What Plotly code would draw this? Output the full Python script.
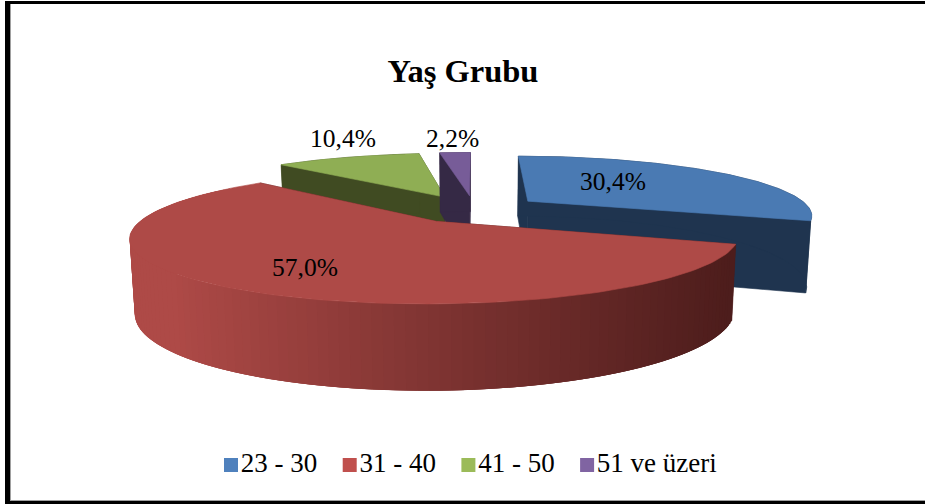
import numpy as np
import plotly.graph_objects as go

categories = ["23 - 30", "31 - 40", "41 - 50", "51 ve üzeri"]
values = [30.4, 57.0, 10.4, 2.2]
title = "Yaş Grubu"
top_colors = ["#4A7AB3", "#AE4A47", "#8FAE54", "#775C98"]
wall_colors = ["#1F344F", "#4D1D1C", "#404B22", "#352945"]
legend_colors = ["#4F81BD", "#C0504D", "#9BBB59", "#8064A2"]
label_xy = [(613, 181), (305, 267), (343, 138), (452, 138)]

# projection of the exploded pie onto a pixel-sized cartesian plot
CX, CY, A, B, K, E, H, S = 474, 209, 283, 58, 0.22, 0.24, 70, 0.985


def project(wx, wy, low=False):
    p = 1 / (1 + K * wy)
    sx = A * wx * p
    sy = CY - B * wy * p
    if low:
        return CX + S * sx, sy + H * p ** 0.7
    return CX + sx, sy


def rim(t, c):
    return c[0] + np.sin(t), c[1] + np.cos(t)


fig = go.Figure()


def poly(xs, ys, color, width=0.6):
    fig.add_trace(go.Scatter(
        x=list(xs), y=list(ys), mode="lines", fill="toself", fillcolor=color,
        line=dict(color=color, width=width), hoverinfo="skip", showlegend=False))


def mix(f):
    left, right = np.array([174, 74, 71]), np.array([77, 29, 28])
    c = left + (right - left) * f
    return "rgb(%d,%d,%d)" % tuple(c)


fracs = np.array(values) / sum(values) * 2 * np.pi
ends = np.cumsum(fracs)
starts = ends - fracs
for i in [2, 3, 0, 1]:
    a0, a1 = starts[i], ends[i]
    mid = (a0 + a1) / 2
    c = (E * np.sin(mid), E * np.cos(mid))
    ts = np.linspace(a0, a1, 121)
    # radial walls
    for t in (a0, a1):
        rx, ry = rim(t, c)
        tx, ty = project(rx, ry)
        bx, by = project(rx, ry, True)
        ax, ay = project(*c)
        dx, dy = project(*c, True)
        poly([ax, tx, bx, dx, ax], [ay, ty, by, dy, ay], wall_colors[i])
    # outer wall
    if i == 1:
        vis = ts[np.cos(ts) < 0.6][::-1]
        for j in range(len(vis) - 3):
            t0, t1 = vis[j], vis[j + 3]
            x0, y0 = project(*rim(t0, c))
            x1, y1 = project(*rim(t1, c))
            x2, y2 = project(*rim(t1, c), True)
            x3, y3 = project(*rim(t0, c), True)
            f = np.clip(((x0 + x1) / 2 - 180) / (736 - 180), 0, 1)
            poly([x0, x1, x2, x3, x0], [y0, y1, y2, y3, y0], mix(f), 0)
    else:
        rx, ry = rim(ts, c)
        tx, ty = project(rx, ry)
        bx, by = project(rx, ry, True)
        poly(np.r_[tx, bx[::-1]], np.r_[ty, by[::-1]], wall_colors[i])
    # top face
    rx, ry = rim(ts, c)
    tx, ty = project(rx, ry)
    ax, ay = project(*c)
    poly(np.r_[ax, tx, ax], np.r_[ay, ty, ay], top_colors[i])

# legend row, drawn on the same pixel axes for the reference's tight swatch gap
for k, (name, col) in enumerate(zip(categories, legend_colors)):
    fig.add_trace(go.Scatter(
        x=[231 + 118.7 * k], y=[465], mode="markers+text", name=name,
        text=[name], textposition="middle right",
        textfont=dict(size=27, color="black"), showlegend=False,
        marker=dict(symbol="square", size=14, color=col)))

annotations = [
    dict(x=x, y=y, text=f"{v:.1f}".replace(".", ",") + "%", showarrow=False,
         font=dict(size=25.5, color="black"))
    for (x, y), v in zip(label_xy, values)
]


def bar(x0, x1, y0, y1, color="black"):
    return dict(type="rect", xref="x", yref="y", x0=x0, x1=x1, y0=y0, y1=y1,
                fillcolor=color, line=dict(width=0), layer="above")


fig.update_layout(
    width=925, height=504, autosize=False,
    margin=dict(l=0, r=0, t=0, b=0),
    paper_bgcolor="white", plot_bgcolor="white",
    font=dict(family="Liberation Serif", color="black"),
    title=dict(text="<b>" + title + "</b>", x=463 / 925, y=1 - 71 / 504,
               xanchor="center", yanchor="middle", font=dict(size=32.5)),
    xaxis=dict(range=[0, 925], visible=False, fixedrange=True),
    yaxis=dict(range=[504, 0], visible=False, fixedrange=True),
    showlegend=False,
    annotations=annotations,
    shapes=[bar(10, 11, 4, 500, "#a0a0a0"), bar(10, 925, 500, 501, "#a0a0a0"),
            bar(5, 10, 1, 504), bar(5, 925, 1, 4), bar(5, 925, 501, 504)],
)
fig.write_html("out.html", post_script="document.body.style.margin='0';",
               config=dict(displayModeBar=False))
